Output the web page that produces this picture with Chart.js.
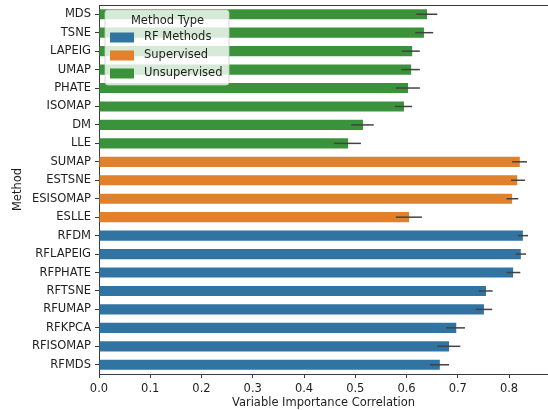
<!DOCTYPE html>
<html>
<head>
<meta charset="utf-8">
<script src="https://cdn.jsdelivr.net/npm/chart.js@4"></script>
<style>
  html, body { margin: 0; padding: 0; background: #ffffff; }
  #wrap { width: 548px; height: 410px; }
</style>
</head>
<body>
<div id="wrap"><canvas id="chart" width="548" height="410"></canvas></div>
<script>
// Method names, top to bottom
const methods = ['MDS', 'TSNE', 'LAPEIG', 'UMAP', 'PHATE', 'ISOMAP', 'DM', 'LLE',
  'SUMAP', 'ESTSNE', 'ESISOMAP', 'ESLLE',
  'RFDM', 'RFLAPEIG', 'RFPHATE', 'RFTSNE', 'RFUMAP', 'RFKPCA', 'RFISOMAP', 'RFMDS'];

// Method type for each bar
const methodTypes = ['Unsupervised', 'Unsupervised', 'Unsupervised', 'Unsupervised',
  'Unsupervised', 'Unsupervised', 'Unsupervised', 'Unsupervised',
  'Supervised', 'Supervised', 'Supervised', 'Supervised',
  'RF Methods', 'RF Methods', 'RF Methods', 'RF Methods', 'RF Methods', 'RF Methods',
  'RF Methods', 'RF Methods'];

// Mean variable importance correlation
const meanCorr = [0.640, 0.634, 0.611, 0.609, 0.603, 0.595, 0.515, 0.486,
  0.821, 0.816, 0.806, 0.605,
  0.827, 0.823, 0.808, 0.755, 0.751, 0.697, 0.683, 0.665];

// Confidence interval bounds
const ciLow = [0.619, 0.617, 0.591, 0.590, 0.579, 0.577, 0.492, 0.458,
  0.806, 0.804, 0.795, 0.579,
  0.817, 0.813, 0.795, 0.741, 0.735, 0.677, 0.660, 0.646];
const ciHigh = [0.660, 0.652, 0.626, 0.626, 0.626, 0.611, 0.536, 0.511,
  0.835, 0.831, 0.818, 0.630,
  0.837, 0.833, 0.822, 0.768, 0.767, 0.714, 0.705, 0.683];

// Legend order
const typeOrder = ['RF Methods', 'Supervised', 'Unsupervised'];
const typeColors = { 'RF Methods': '#3274a1', 'Supervised': '#e1812c', 'Unsupervised': '#3a923a' };

const FONT = 'DejaVu Sans';
const FSIZE = 11.5;
const TEXT = '#1e1e1e';
const SPINE = '#3a3a3a';

const errorBars = {
  id: 'errorBars',
  afterDatasetsDraw(chart) {
    const meta = chart.getDatasetMeta(0);
    const xs = chart.scales.x;
    const ctx = chart.ctx;
    ctx.save();
    ctx.strokeStyle = '#424242';
    ctx.lineWidth = 1.5;
    meta.data.forEach((bar, i) => {
      const y = bar.y;
      ctx.beginPath();
      ctx.moveTo(xs.getPixelForValue(ciLow[i]), y);
      ctx.lineTo(xs.getPixelForValue(ciHigh[i]), y);
      ctx.stroke();
    });
    ctx.restore();
  }
};

const topSpine = {
  id: 'topSpine',
  afterDraw(chart) {
    const a = chart.chartArea;
    const ctx = chart.ctx;
    ctx.save();
    ctx.strokeStyle = SPINE;
    ctx.lineWidth = 1;
    ctx.beginPath();
    ctx.moveTo(a.left, a.top + 0.5);
    ctx.lineTo(a.right + 2, a.top + 0.5);
    ctx.stroke();
    ctx.restore();
  }
};

const typeLegend = {
  id: 'typeLegend',
  afterDraw(chart) {
    const ctx = chart.ctx;
    const x0 = 105, y0 = 10, w = 124, h = 75, r = 3;
    ctx.save();
    ctx.beginPath();
    ctx.moveTo(x0 + r, y0);
    ctx.arcTo(x0 + w, y0, x0 + w, y0 + h, r);
    ctx.arcTo(x0 + w, y0 + h, x0, y0 + h, r);
    ctx.arcTo(x0, y0 + h, x0, y0, r);
    ctx.arcTo(x0, y0, x0 + w, y0, r);
    ctx.closePath();
    ctx.fillStyle = 'rgba(255,255,255,0.8)';
    ctx.fill();
    ctx.strokeStyle = 'rgba(204,204,204,0.8)';
    ctx.lineWidth = 1;
    ctx.stroke();

    ctx.font = FSIZE + 'px "' + FONT + '"';
    ctx.fillStyle = TEXT;
    ctx.textAlign = 'center';
    ctx.textBaseline = 'middle';
    ctx.fillText('Method Type', x0 + w / 2 + 0.5, 21);

    ctx.textAlign = 'left';
    typeOrder.forEach((t, k) => {
      const cy = 37.5 + k * 18;
      ctx.fillStyle = typeColors[t];
      ctx.fillRect(110, cy - 5, 24, 10);
      ctx.fillStyle = TEXT;
      ctx.fillText(t, 144, cy);
    });
    ctx.restore();
  }
};

new Chart(document.getElementById('chart'), {
  type: 'bar',
  data: {
    labels: methods,
    datasets: [{
      data: meanCorr,
      backgroundColor: methodTypes.map(t => typeColors[t]),
      borderWidth: 0,
      barPercentage: 0.55,
      categoryPercentage: 1.0
    }]
  },
  options: {
    indexAxis: 'y',
    responsive: false,
    animation: false,
    events: [],
    layout: { padding: { top: 5, right: 0, left: 0, bottom: 0 } },
    plugins: {
      legend: { display: false },
      tooltip: { enabled: false }
    },
    scales: {
      x: {
        min: 0,
        max: 0.876,
        afterFit(s) { s.height = 36; s.paddingLeft = 0; s.paddingRight = 0; },
        ticks: {
          stepSize: 0.1,
          includeBounds: false,
          padding: 4,
          color: TEXT,
          font: { family: FONT, size: FSIZE },
          callback: v => v.toFixed(1)
        },
        grid: { drawOnChartArea: false, tickLength: 4, tickColor: SPINE, tickWidth: 1 },
        border: { display: true, color: SPINE, width: 1 },
        title: {
          display: true,
          text: 'Variable Importance Correlation',
          color: TEXT,
          font: { family: FONT, size: FSIZE },
          padding: { top: 0, bottom: 0 }
        }
      },
      y: {
        afterFit(s) { s.width = 99; s.paddingTop = 0; s.paddingBottom = 0; },
        ticks: {
          padding: 4,
          color: TEXT,
          font: { family: FONT, size: FSIZE }
        },
        grid: { drawOnChartArea: false, offset: false, tickLength: 4, tickColor: SPINE, tickWidth: 1 },
        border: { display: true, color: SPINE, width: 1 },
        title: {
          display: true,
          text: 'Method',
          color: TEXT,
          font: { family: FONT, size: FSIZE },
          padding: { top: 11, bottom: 0 }
        }
      }
    }
  },
  plugins: [errorBars, topSpine, typeLegend]
});
</script>
</body>
</html>
